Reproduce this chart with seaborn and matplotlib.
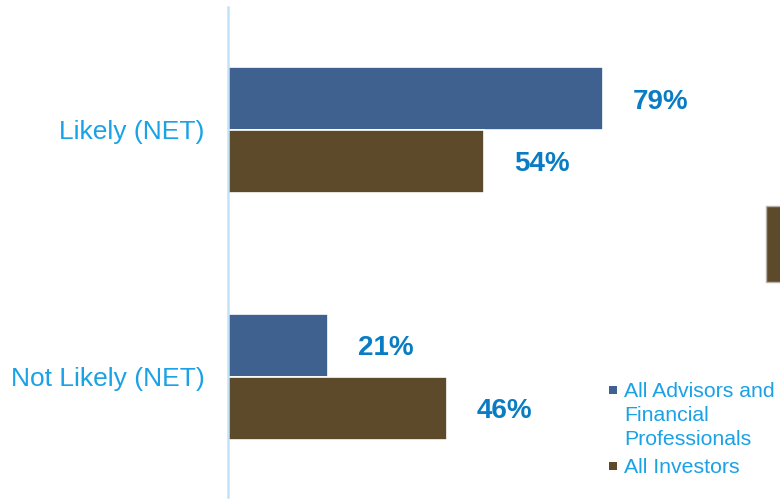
import matplotlib
matplotlib.use("Agg")
import matplotlib.pyplot as plt
from matplotlib.patches import Rectangle
import pandas as pd
import seaborn as sns

# Survey responses (% of respondents)
categories = ["Likely (NET)", "Not Likely (NET)"]
groups = ["All Advisors and Financial Professionals", "All Investors"]
advisors = [79, 21]
investors = [54, 46]

BLUE = "#3E6190"
BROWN = "#5C4A2A"
LABEL_BLUE = "#1AA1E6"
VALUE_BLUE = "#0A7CC4"

df = pd.DataFrame({
    "category": categories * 2,
    "group": [groups[0]] * len(categories) + [groups[1]] * len(categories),
    "value": advisors + investors,
})

sns.set_theme(style="white")
plt.rcParams["font.family"] = ["Liberation Sans", "DejaVu Sans"]

fig = plt.figure(figsize=(7.8, 4.99), dpi=100)
ax = fig.add_axes([228 / 780, 2 / 499, 475 / 780, 490 / 499])

sns.barplot(
    data=df, y="category", x="value", hue="group", orient="h",
    order=categories, hue_order=groups, palette=[BLUE, BROWN], saturation=1,
    width=0.51, edgecolor="white", linewidth=1.2, legend=False, ax=ax,
)

for container in ax.containers:
    labels = ax.bar_label(container, labels=[f"{v:.0f}%" for v in container.datavalues],
                          padding=21.5, color=VALUE_BLUE, fontsize=20, fontweight="bold")
    for t in labels:
        t.set_va("center_baseline")

ax.set_xlim(0, 100)
ax.set_ylim(1.486, -0.498)
ax.set_xlabel("")
ax.set_ylabel("")
ax.set_xticks([])
ax.tick_params(axis="y", length=0, pad=17, labelsize=19, labelcolor=LABEL_BLUE)
for side in ["top", "right", "bottom"]:
    ax.spines[side].set_visible(False)
ax.spines["left"].set_color("#C2E3F7")
ax.spines["left"].set_linewidth(1.8)

# Legend drawn beside the plot, marker aligned with the first line of each entry
legend_entries = [
    ("All Advisors and\nFinancial\nProfessionals", BLUE, 390),
    ("All Investors", BROWN, 466),
]
for text, color, ypx in legend_entries:
    fig.patches.append(Rectangle((609 / 780, 1 - (ypx + 4) / 499), 8 / 780, 8 / 499,
                                 transform=fig.transFigure, facecolor=color,
                                 edgecolor="none"))
    fig.text(624 / 780, 1 - (ypx - 8) / 499, text, ha="left", va="top",
             fontsize=15.3, color=LABEL_BLUE, linespacing=1.34)

# Partial panel at the right edge
fig.patches.append(Rectangle((766 / 780, 1 - 282 / 499), 16 / 780, 76 / 499,
                             transform=fig.transFigure, facecolor=BROWN,
                             edgecolor="#B8B2A6", linewidth=1.0))

fig.savefig("out.png", dpi=100)
